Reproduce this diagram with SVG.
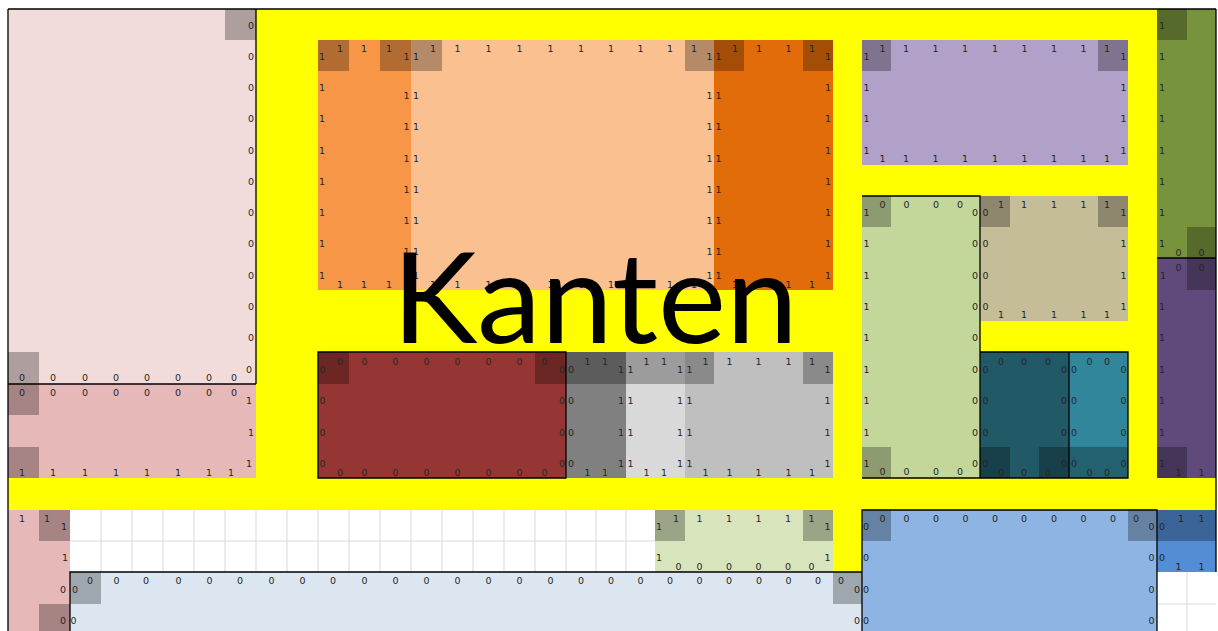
<svg xmlns="http://www.w3.org/2000/svg" width="1218" height="631" viewBox="0 0 1218 631">
<style>
.t{font-family:"DejaVu Sans",sans-serif;font-size:9.5px;fill:#262626;text-anchor:middle}
.sh{fill:#000;fill-opacity:.28}
.bd{stroke:#000;stroke-width:1.3;fill:none}
.gr{stroke:#d9d9d9;stroke-width:1;fill:none}
</style>
<rect width="1218" height="631" fill="#fff"/>
<g id="yellow">
<rect x="256" y="9" width="901" height="470" fill="#ffff00"/>
<rect x="8" y="478" width="1208" height="32" fill="#ffff00"/>
<rect x="833" y="505" width="29" height="67" fill="#ffff00"/>
</g>
<g id="grid">
<path class="gr" d="M70 541H655M101 510V572M132 510V572M163 510V572M194 510V572M225 510V572M256 510V572M287 510V572M318 510V572M349 510V572M380 510V572M411 510V572M442 510V572M473 510V572M504 510V572M535 510V572M566 510V572M596 510V572M626 510V572M1187 572V631M1157 604H1216"/>
</g>
<g id="p1">
<rect x="8" y="9" width="248" height="375" fill="#f2dcdb"/>
<rect class="sh" x="225" y="9" width="31" height="31"/><rect class="sh" x="8" y="352" width="31" height="32"/>
<text class="t" x="251" y="29">0</text><text class="t" x="251" y="60">0</text><text class="t" x="251" y="91">0</text><text class="t" x="251" y="122">0</text><text class="t" x="251" y="153.5">0</text><text class="t" x="251" y="185">0</text><text class="t" x="251" y="216">0</text><text class="t" x="251" y="247">0</text><text class="t" x="251" y="278.5">0</text><text class="t" x="251" y="310">0</text><text class="t" x="251" y="341">0</text><text class="t" x="249" y="372.5">0</text>
<text class="t" x="22" y="381">0</text><text class="t" x="53" y="381">0</text><text class="t" x="85" y="381">0</text><text class="t" x="116" y="381">0</text><text class="t" x="147" y="381">0</text><text class="t" x="178" y="381">0</text><text class="t" x="209" y="381">0</text><text class="t" x="234" y="381">0</text>
</g>
<g id="p2">
<rect x="8" y="384" width="248" height="94" fill="#e6b8b7"/>
<rect class="sh" x="8" y="384" width="31" height="31"/><rect class="sh" x="8" y="447" width="31" height="31"/>
<text class="t" x="22" y="395.5">0</text><text class="t" x="53" y="395.5">0</text><text class="t" x="85" y="395.5">0</text><text class="t" x="116" y="395.5">0</text><text class="t" x="147" y="395.5">0</text><text class="t" x="178" y="395.5">0</text><text class="t" x="209" y="395.5">0</text><text class="t" x="234" y="395.5">0</text>
<text class="t" x="249" y="404">1</text><text class="t" x="251" y="435.5">1</text><text class="t" x="249" y="467">1</text>
<text class="t" x="22" y="475.5">1</text><text class="t" x="53" y="475.5">1</text><text class="t" x="85" y="475.5">1</text><text class="t" x="116" y="475.5">1</text><text class="t" x="147" y="475.5">1</text><text class="t" x="178" y="475.5">1</text><text class="t" x="209" y="475.5">1</text><text class="t" x="231" y="475.5">1</text>
</g>
<g id="p3">
<rect x="8" y="510" width="62" height="121" fill="#e6b8b7"/>
<rect class="sh" x="39" y="510" width="31" height="31"/><rect class="sh" x="39" y="604" width="31" height="27"/>
<text class="t" x="22" y="521.5">1</text><text class="t" x="47" y="521.5">1</text><text class="t" x="64" y="530">1</text><text class="t" x="65" y="561">1</text><text class="t" x="63" y="592.5">0</text><text class="t" x="63" y="624">0</text>
</g>
<g id="orange">
<rect x="318" y="40" width="93" height="250" fill="#f79646"/>
<rect class="sh" x="318" y="40" width="31" height="31"/><rect class="sh" x="380" y="40" width="31" height="31"/>
<text class="t" x="340" y="51.5">1</text><text class="t" x="364" y="51.5">1</text><text class="t" x="389" y="51.5">1</text>
<text class="t" x="322" y="60">1</text><text class="t" x="322" y="91">1</text><text class="t" x="322" y="122">1</text><text class="t" x="322" y="153.5">1</text><text class="t" x="322" y="185">1</text><text class="t" x="322" y="216">1</text><text class="t" x="322" y="247">1</text><text class="t" x="322" y="278.5">1</text>
<text class="t" x="406.5" y="60">1</text><text class="t" x="406.5" y="99">1</text><text class="t" x="406.5" y="130">1</text><text class="t" x="406.5" y="162">1</text><text class="t" x="406.5" y="193">1</text><text class="t" x="406.5" y="224">1</text><text class="t" x="406.5" y="255">1</text><text class="t" x="406.5" y="278.5">1</text>
<text class="t" x="340" y="287.5">1</text><text class="t" x="364" y="287.5">1</text><text class="t" x="389" y="287.5">1</text>
</g>
<g id="lightorange">
<rect x="411" y="40" width="303" height="250" fill="#fac090"/>
<rect class="sh" x="411" y="40" width="31" height="31"/><rect class="sh" x="685" y="40" width="29" height="31"/>
<text class="t" x="433" y="51.5">1</text><text class="t" x="457.5" y="51.5">1</text><text class="t" x="488.5" y="51.5">1</text><text class="t" x="519.5" y="51.5">1</text><text class="t" x="550.5" y="51.5">1</text><text class="t" x="581" y="51.5">1</text><text class="t" x="611" y="51.5">1</text><text class="t" x="640.5" y="51.5">1</text><text class="t" x="670" y="51.5">1</text><text class="t" x="694" y="51.5">1</text>
<text class="t" x="416" y="60">1</text><text class="t" x="416" y="99">1</text><text class="t" x="416" y="130">1</text><text class="t" x="416" y="162">1</text><text class="t" x="416" y="193">1</text><text class="t" x="416" y="224">1</text><text class="t" x="416" y="255">1</text><text class="t" x="416" y="278.5">1</text>
<text class="t" x="709.5" y="60">1</text><text class="t" x="709.5" y="99">1</text><text class="t" x="709.5" y="130">1</text><text class="t" x="709.5" y="162">1</text><text class="t" x="709.5" y="193">1</text><text class="t" x="709.5" y="224">1</text><text class="t" x="709.5" y="255">1</text><text class="t" x="709.5" y="278.5">1</text>
<text class="t" x="433" y="287.5">1</text><text class="t" x="457.5" y="287.5">1</text><text class="t" x="488.5" y="287.5">1</text><text class="t" x="519.5" y="287.5">1</text><text class="t" x="550.5" y="287.5">1</text><text class="t" x="581" y="287.5">1</text><text class="t" x="611" y="287.5">1</text><text class="t" x="640.5" y="287.5">1</text><text class="t" x="670" y="287.5">1</text><text class="t" x="694" y="287.5">1</text>
</g>
<g id="darkorange">
<rect x="714" y="40" width="119" height="250" fill="#e26b0a"/>
<rect class="sh" x="714" y="40" width="30" height="31"/><rect class="sh" x="803" y="40" width="30" height="31"/>
<text class="t" x="735" y="51.5">1</text><text class="t" x="759" y="51.5">1</text><text class="t" x="788.5" y="51.5">1</text><text class="t" x="812" y="51.5">1</text>
<text class="t" x="718.5" y="60">1</text><text class="t" x="718.5" y="99">1</text><text class="t" x="718.5" y="130">1</text><text class="t" x="718.5" y="162">1</text><text class="t" x="718.5" y="193">1</text><text class="t" x="718.5" y="224">1</text><text class="t" x="718.5" y="255">1</text><text class="t" x="718.5" y="278.5">1</text>
<text class="t" x="828" y="60">1</text><text class="t" x="828" y="91">1</text><text class="t" x="828" y="122">1</text><text class="t" x="828" y="153.5">1</text><text class="t" x="828" y="185">1</text><text class="t" x="828" y="216">1</text><text class="t" x="828" y="247">1</text><text class="t" x="828" y="278.5">1</text>
<text class="t" x="735" y="287.5">1</text><text class="t" x="759" y="287.5">1</text><text class="t" x="788.5" y="287.5">1</text><text class="t" x="812" y="287.5">1</text>
</g>
<g id="lavender">
<rect x="862" y="40" width="266" height="125" fill="#b1a0c7"/>
<rect class="sh" x="862" y="40" width="29" height="31"/><rect class="sh" x="1098" y="40" width="30" height="31"/>
<text class="t" x="882.5" y="51.5">1</text><text class="t" x="906" y="51.5">1</text><text class="t" x="935.5" y="51.5">1</text><text class="t" x="965" y="51.5">1</text><text class="t" x="995" y="51.5">1</text><text class="t" x="1024.5" y="51.5">1</text><text class="t" x="1054" y="51.5">1</text><text class="t" x="1083.5" y="51.5">1</text><text class="t" x="1107" y="51.5">1</text>
<text class="t" x="866.5" y="60">1</text><text class="t" x="866.5" y="91">1</text><text class="t" x="866.5" y="122">1</text><text class="t" x="866.5" y="153.5">1</text>
<text class="t" x="1123.5" y="60">1</text><text class="t" x="1123.5" y="91">1</text><text class="t" x="1123.5" y="122">1</text><text class="t" x="1123.5" y="153.5">1</text>
<text class="t" x="882.5" y="162">1</text><text class="t" x="906" y="162">1</text><text class="t" x="935.5" y="162">1</text><text class="t" x="965" y="162">1</text><text class="t" x="995" y="162">1</text><text class="t" x="1024.5" y="162">1</text><text class="t" x="1054" y="162">1</text><text class="t" x="1083.5" y="162">1</text><text class="t" x="1107" y="162">1</text>
</g>
<g id="olive">
<rect x="1157" y="9" width="59" height="249" fill="#77933c"/>
<rect class="sh" x="1157" y="9" width="30" height="31"/><rect class="sh" x="1187" y="227" width="29" height="31"/>
<text class="t" x="1162" y="29">1</text><text class="t" x="1162" y="60">1</text><text class="t" x="1162" y="91">1</text><text class="t" x="1162" y="122">1</text><text class="t" x="1162" y="153.5">1</text><text class="t" x="1162" y="185">1</text><text class="t" x="1162" y="216">1</text><text class="t" x="1162" y="247">1</text>
<text class="t" x="1178.5" y="255.5">0</text><text class="t" x="1201.5" y="255.5">0</text>
</g>
<g id="purple">
<rect x="1157" y="258" width="59" height="220" fill="#604a7b"/>
<rect class="sh" x="1187" y="258" width="29" height="32"/><rect class="sh" x="1157" y="447" width="30" height="31"/>
<text class="t" x="1178.5" y="270.5">0</text><text class="t" x="1201.5" y="270.5">0</text>
<text class="t" x="1163" y="278.5">1</text><text class="t" x="1162" y="310">1</text><text class="t" x="1162" y="341">1</text><text class="t" x="1162" y="372.5">1</text><text class="t" x="1162" y="404">1</text><text class="t" x="1162" y="435.5">1</text><text class="t" x="1162" y="467">1</text>
<text class="t" x="1178.5" y="475.5">1</text><text class="t" x="1201.5" y="475.5">1</text>
</g>
<g id="lightgreen">
<rect x="862" y="196" width="118" height="282" fill="#c4d79b"/>
<rect class="sh" x="862" y="196" width="29" height="31"/><rect class="sh" x="862" y="447" width="29" height="31"/>
<text class="t" x="882.5" y="207.5">0</text><text class="t" x="906.5" y="207.5">0</text><text class="t" x="936" y="207.5">0</text><text class="t" x="960" y="207.5">0</text>
<text class="t" x="866.5" y="216">1</text><text class="t" x="866.5" y="247">1</text><text class="t" x="866.5" y="278.5">1</text><text class="t" x="866.5" y="310">1</text><text class="t" x="866.5" y="341">1</text><text class="t" x="866.5" y="372.5">1</text><text class="t" x="866.5" y="404">1</text><text class="t" x="866.5" y="435.5">1</text><text class="t" x="866.5" y="467">1</text>
<text class="t" x="975" y="216">0</text><text class="t" x="975" y="247">0</text><text class="t" x="975" y="278.5">0</text><text class="t" x="975" y="310">0</text><text class="t" x="975" y="341">0</text><text class="t" x="975" y="372.5">0</text><text class="t" x="975" y="404">0</text><text class="t" x="975" y="435.5">0</text><text class="t" x="975" y="467">0</text>
<text class="t" x="882.5" y="475">0</text><text class="t" x="906.5" y="475">0</text><text class="t" x="936" y="475">0</text><text class="t" x="960" y="475">0</text>
</g>
<g id="tan">
<rect x="980" y="196" width="148" height="125" fill="#c4bd97"/>
<rect class="sh" x="980" y="196" width="30" height="31"/><rect class="sh" x="1098" y="196" width="30" height="31"/>
<text class="t" x="1001" y="207.5">1</text><text class="t" x="1024" y="207.5">1</text><text class="t" x="1054" y="207.5">1</text><text class="t" x="1083.5" y="207.5">1</text><text class="t" x="1107" y="207.5">1</text>
<text class="t" x="985.5" y="216">0</text><text class="t" x="985.5" y="247">0</text><text class="t" x="985.5" y="278.5">0</text><text class="t" x="985.5" y="310">0</text>
<text class="t" x="1123.5" y="216">1</text><text class="t" x="1123.5" y="247">1</text><text class="t" x="1123.5" y="278.5">1</text><text class="t" x="1123.5" y="310">1</text>
<text class="t" x="1001" y="318">1</text><text class="t" x="1024" y="318">1</text><text class="t" x="1054" y="318">1</text><text class="t" x="1083.5" y="318">1</text><text class="t" x="1107" y="318">1</text>
</g>
<g id="darkteal">
<rect x="980" y="352" width="89" height="126" fill="#215967"/>
<rect class="sh" x="980" y="447" width="30" height="31"/><rect class="sh" x="1039" y="447" width="30" height="31"/>
<text class="t" x="1001" y="365">0</text><text class="t" x="1024" y="365">0</text><text class="t" x="1048" y="365">0</text>
<text class="t" x="985.5" y="372.5">0</text><text class="t" x="985.5" y="404">0</text><text class="t" x="985.5" y="435.5">0</text><text class="t" x="985.5" y="467">0</text>
<text class="t" x="1064" y="372.5">0</text><text class="t" x="1064" y="404">0</text><text class="t" x="1064" y="435.5">0</text><text class="t" x="1064" y="467">0</text>
<text class="t" x="1001" y="475.5">0</text><text class="t" x="1024" y="475.5">0</text><text class="t" x="1048" y="475.5">0</text>
</g>
<g id="teal">
<rect x="1069" y="352" width="59" height="126" fill="#31869b"/>
<rect class="sh" x="1069" y="447" width="59" height="31"/>
<text class="t" x="1089.5" y="365">0</text><text class="t" x="1107" y="365">0</text>
<text class="t" x="1074" y="372.5">0</text><text class="t" x="1074" y="404">0</text><text class="t" x="1074" y="435.5">0</text><text class="t" x="1074" y="467">0</text>
<text class="t" x="1123.5" y="372.5">0</text><text class="t" x="1123.5" y="404">0</text><text class="t" x="1123.5" y="435.5">0</text><text class="t" x="1123.5" y="467">0</text>
<text class="t" x="1089.5" y="475.5">0</text><text class="t" x="1107" y="475.5">0</text>
</g>
<g id="darkred">
<rect x="318" y="352" width="248" height="126" fill="#963634"/>
<rect class="sh" x="318" y="352" width="31" height="32"/><rect class="sh" x="535" y="352" width="31" height="32"/>
<text class="t" x="340" y="365">0</text><text class="t" x="364.5" y="365">0</text><text class="t" x="395.5" y="365">0</text><text class="t" x="426.5" y="365">0</text><text class="t" x="457.5" y="365">0</text><text class="t" x="488.5" y="365">0</text><text class="t" x="519.5" y="365">0</text><text class="t" x="544.5" y="365">0</text>
<text class="t" x="322.5" y="372.5">0</text><text class="t" x="322.5" y="404">0</text><text class="t" x="322.5" y="435.5">0</text><text class="t" x="322.5" y="467">0</text>
<text class="t" x="562" y="372.5">0</text><text class="t" x="562" y="404">0</text><text class="t" x="562" y="435.5">0</text><text class="t" x="562" y="467">0</text>
<text class="t" x="340" y="475.5">0</text><text class="t" x="364.5" y="475.5">0</text><text class="t" x="395.5" y="475.5">0</text><text class="t" x="426.5" y="475.5">0</text><text class="t" x="457.5" y="475.5">0</text><text class="t" x="488.5" y="475.5">0</text><text class="t" x="519.5" y="475.5">0</text><text class="t" x="544.5" y="475.5">0</text>
</g>
<g id="darkgrey">
<rect x="566" y="352" width="60" height="126" fill="#808080"/>
<rect class="sh" x="566" y="352" width="60" height="32"/>
<text class="t" x="587.5" y="365">1</text><text class="t" x="605" y="365">1</text>
<text class="t" x="571" y="372.5">0</text><text class="t" x="571" y="404">0</text><text class="t" x="571" y="435.5">0</text><text class="t" x="571" y="467">0</text>
<text class="t" x="621" y="372.5">1</text><text class="t" x="621" y="404">1</text><text class="t" x="621" y="435.5">1</text><text class="t" x="621" y="467">1</text>
<text class="t" x="587.5" y="475.5">1</text><text class="t" x="605" y="475.5">1</text>
</g>
<g id="lightgrey">
<rect x="626" y="352" width="59" height="126" fill="#d9d9d9"/>
<rect class="sh" x="626" y="352" width="59" height="32"/>
<text class="t" x="646.5" y="365">1</text><text class="t" x="664" y="365">1</text>
<text class="t" x="630.5" y="372.5">1</text><text class="t" x="630.5" y="404">1</text><text class="t" x="630.5" y="435.5">1</text><text class="t" x="630.5" y="467">1</text>
<text class="t" x="680" y="372.5">1</text><text class="t" x="680" y="404">1</text><text class="t" x="680" y="435.5">1</text><text class="t" x="680" y="467">1</text>
<text class="t" x="646.5" y="475.5">1</text><text class="t" x="664" y="475.5">1</text>
</g>
<g id="grey">
<rect x="685" y="352" width="148" height="126" fill="#bfbfbf"/>
<rect class="sh" x="685" y="352" width="29" height="32"/><rect class="sh" x="803" y="352" width="30" height="32"/>
<text class="t" x="705.5" y="365">1</text><text class="t" x="729.5" y="365">1</text><text class="t" x="758.5" y="365">1</text><text class="t" x="788.5" y="365">1</text><text class="t" x="812" y="365">1</text>
<text class="t" x="689.5" y="372.5">1</text><text class="t" x="689.5" y="404">1</text><text class="t" x="689.5" y="435.5">1</text><text class="t" x="689.5" y="467">1</text>
<text class="t" x="827.5" y="372.5">1</text><text class="t" x="827.5" y="404">1</text><text class="t" x="827.5" y="435.5">1</text><text class="t" x="827.5" y="467">1</text>
<text class="t" x="705.5" y="475.5">1</text><text class="t" x="729.5" y="475.5">1</text><text class="t" x="758.5" y="475.5">1</text><text class="t" x="788.5" y="475.5">1</text><text class="t" x="812" y="475.5">1</text>
</g>
<g id="palegreen">
<rect x="655" y="510" width="178" height="62" fill="#d8e4bc"/>
<rect class="sh" x="655" y="510" width="30" height="31"/><rect class="sh" x="803" y="510" width="30" height="31"/>
<text class="t" x="676" y="521.5">1</text><text class="t" x="699.5" y="521.5">1</text><text class="t" x="729" y="521.5">1</text><text class="t" x="758.5" y="521.5">1</text><text class="t" x="788" y="521.5">1</text><text class="t" x="811.5" y="521.5">1</text>
<text class="t" x="659" y="530">1</text><text class="t" x="659" y="561">1</text><text class="t" x="827.5" y="530">1</text><text class="t" x="827.5" y="561">1</text>
<text class="t" x="678.5" y="569.5">0</text><text class="t" x="699.5" y="569.5">0</text><text class="t" x="729" y="569.5">0</text><text class="t" x="758.5" y="569.5">0</text><text class="t" x="788" y="569.5">0</text><text class="t" x="811.5" y="569.5">0</text>
</g>
<g id="paleblue">
<rect x="70" y="572" width="792" height="59" fill="#dce6f1"/>
<rect class="sh" x="70" y="572" width="31" height="32"/><rect class="sh" x="833" y="572" width="29" height="32"/>
<text class="t" x="90" y="583.5">0</text><text class="t" x="116.5" y="583.5">0</text><text class="t" x="146" y="583.5">0</text><text class="t" x="178.5" y="583.5">0</text><text class="t" x="209.5" y="583.5">0</text><text class="t" x="240" y="583.5">0</text><text class="t" x="271.5" y="583.5">0</text><text class="t" x="302.5" y="583.5">0</text><text class="t" x="333" y="583.5">0</text><text class="t" x="364.5" y="583.5">0</text><text class="t" x="395.5" y="583.5">0</text><text class="t" x="426.5" y="583.5">0</text><text class="t" x="457.5" y="583.5">0</text><text class="t" x="488.5" y="583.5">0</text><text class="t" x="519.5" y="583.5">0</text><text class="t" x="550.5" y="583.5">0</text><text class="t" x="581" y="583.5">0</text><text class="t" x="611" y="583.5">0</text><text class="t" x="640.5" y="583.5">0</text><text class="t" x="670" y="583.5">0</text><text class="t" x="699.5" y="583.5">0</text><text class="t" x="729" y="583.5">0</text><text class="t" x="759" y="583.5">0</text><text class="t" x="788.5" y="583.5">0</text><text class="t" x="818" y="583.5">0</text><text class="t" x="841" y="583.5">0</text>
<text class="t" x="75" y="592.5">0</text><text class="t" x="73.5" y="624">0</text><text class="t" x="857" y="592.5">0</text><text class="t" x="857" y="624">0</text>
</g>
<g id="blue">
<rect x="862" y="510" width="295" height="121" fill="#8db4e2"/>
<rect class="sh" x="862" y="510" width="29" height="31"/><rect class="sh" x="1128" y="510" width="29" height="31"/>
<text class="t" x="882.5" y="521.5">0</text><text class="t" x="906.5" y="521.5">0</text><text class="t" x="936" y="521.5">0</text><text class="t" x="965.5" y="521.5">0</text><text class="t" x="995" y="521.5">0</text><text class="t" x="1024" y="521.5">0</text><text class="t" x="1054" y="521.5">0</text><text class="t" x="1083.5" y="521.5">0</text><text class="t" x="1113" y="521.5">0</text><text class="t" x="1136" y="521.5">0</text>
<text class="t" x="866" y="530">0</text><text class="t" x="866" y="561">0</text><text class="t" x="866" y="592.5">0</text><text class="t" x="866" y="624">0</text>
<text class="t" x="1151.5" y="530">0</text><text class="t" x="1151.5" y="561">0</text><text class="t" x="1151.5" y="592.5">0</text><text class="t" x="1151.5" y="624">0</text>
</g>
<g id="smallblue">
<rect x="1157" y="510" width="59" height="62" fill="#538dd5"/>
<rect class="sh" x="1157" y="510" width="59" height="31"/>
<text class="t" x="1162" y="530">0</text><text class="t" x="1181" y="521.5">1</text><text class="t" x="1201.5" y="521.5">1</text>
<text class="t" x="1162" y="561">0</text><text class="t" x="1178.5" y="570">1</text><text class="t" x="1201.5" y="570">1</text>
</g>
<g id="connectors">
<path class="bd" d="M8 9H1216M8 9V631M1216 9V572M256 9V384M8 384H256M1157 258H1216M862 196H980V478H862M980 352H1128V478H980M1069 352V478M318 352H566V478H318ZM70 631V572H862M862 631V510H1157V631"/>
</g>
<g id="title">
<text x="392" y="343" font-family="Lato,sans-serif" font-size="126" fill="#000" textLength="406" lengthAdjust="spacingAndGlyphs">Kanten</text>
</g>
</svg>
